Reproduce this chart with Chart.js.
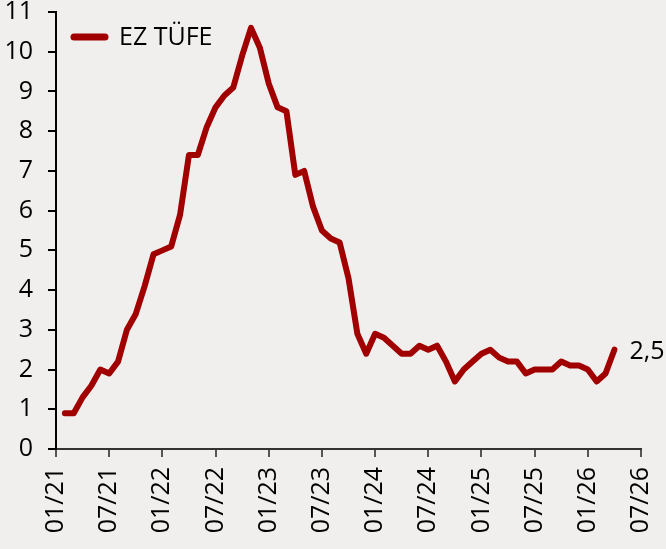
<!DOCTYPE html>
<html lang="tr">
<head>
<meta charset="utf-8">
<script src="https://cdn.jsdelivr.net/npm/chart.js@4.4.1/dist/chart.umd.min.js"></script>
<style>
    html, body { margin: 0; padding: 0; background: #f1efee; }
    #grafico { display: block; }
</style>
</head>
<body>
<canvas id="grafico" width="666" height="549"></canvas>
<script>
// Dados: EZ TÜFE (yıllık %, aylık) 01/21 - 03/26
const aylar = [
    '01/21','02/21','03/21','04/21','05/21','06/21','07/21','08/21','09/21','10/21','11/21','12/21',
    '01/22','02/22','03/22','04/22','05/22','06/22','07/22','08/22','09/22','10/22','11/22','12/22',
    '01/23','02/23','03/23','04/23','05/23','06/23','07/23','08/23','09/23','10/23','11/23','12/23',
    '01/24','02/24','03/24','04/24','05/24','06/24','07/24','08/24','09/24','10/24','11/24','12/24',
    '01/25','02/25','03/25','04/25','05/25','06/25','07/25','08/25','09/25','10/25','11/25','12/25',
    '01/26','02/26','03/26'
];
const ezTufe = [
    0.9, 0.9, 1.3, 1.6, 2.0, 1.9, 2.2, 3.0, 3.4, 4.1, 4.9, 5.0,
    5.1, 5.9, 7.4, 7.4, 8.1, 8.6, 8.9, 9.1, 9.9, 10.6, 10.1, 9.2,
    8.6, 8.5, 6.9, 7.0, 6.1, 5.5, 5.3, 5.2, 4.3, 2.9, 2.4, 2.9,
    2.8, 2.6, 2.4, 2.4, 2.6, 2.5, 2.6, 2.2, 1.7, 2.0, 2.2, 2.4,
    2.5, 2.3, 2.2, 2.2, 1.9, 2.0, 2.0, 2.0, 2.2, 2.1, 2.1, 2.0,
    1.7, 1.9, 2.5
];
const eixoXRotulos = ['01/21','07/21','01/22','07/22','01/23','07/23','01/24','07/24','01/25','07/25','01/26','07/26'];
const nomeSerie = 'EZ TÜFE';

const corLinha = '#a00000';
const fonte = '"Open Sans", "DejaVu Sans", sans-serif';

// cada mês fica uma posição à direita do início do eixo
const pontos = ezTufe.map((v, i) => ({ x: i + 1, y: v }));

// Fundo
const fundoPlugin = {
    id: 'fundo',
    beforeDraw(chart) {
        const ctx = chart.ctx;
        ctx.save();
        ctx.fillStyle = '#f1efee';
        ctx.fillRect(0, 0, chart.width, chart.height);
        ctx.restore();
    }
};

// Legenda dentro da área do gráfico + rótulo do último valor
const legendaPlugin = {
    id: 'legendaInterna',
    afterDatasetsDraw(chart) {
        const ctx = chart.ctx;
        ctx.save();
        ctx.strokeStyle = corLinha;
        ctx.lineWidth = 7;
        ctx.lineCap = 'round';
        ctx.beginPath();
        ctx.moveTo(74, 37);
        ctx.lineTo(105, 37);
        ctx.stroke();
        ctx.fillStyle = '#000';
        ctx.font = '25px ' + fonte;
        ctx.textBaseline = 'middle';
        ctx.textAlign = 'left';
        ctx.fillText(nomeSerie, 119, 38);

        const meta = chart.getDatasetMeta(0);
        const ultimo = meta.data[meta.data.length - 1];
        const valor = ezTufe[ezTufe.length - 1].toFixed(1).replace('.', ',');
        ctx.fillText(valor, ultimo.x + 15, ultimo.y + 2);
        ctx.restore();
    }
};

new Chart(document.getElementById('grafico'), {
    type: 'line',
    data: {
        datasets: [{
            label: nomeSerie,
            data: pontos,
            borderColor: corLinha,
            borderWidth: 6,
            borderJoinStyle: 'round',
            borderCapStyle: 'round',
            pointRadius: 0,
            tension: 0,
            fill: false
        }]
    },
    options: {
        responsive: false,
        animation: false,
        layout: { padding: { top: 12, right: 25, left: 0, bottom: 0 } },
        plugins: {
            legend: { display: false },
            tooltip: { enabled: false }
        },
        scales: {
            x: {
                type: 'linear',
                min: 0,
                max: 66,
                afterBuildTicks(scale) {
                    scale.ticks = eixoXRotulos.map((r, i) => ({ value: i * 6 }));
                },
                afterFit(scale) {
                    scale.height = 100;
                    scale.paddingLeft = 0;
                    scale.paddingRight = 0;
                },
                ticks: {
                    autoSkip: false,
                    minRotation: 90,
                    maxRotation: 90,
                    padding: 10,
                    color: '#000',
                    font: { family: fonte, size: 25 },
                    callback: (v) => eixoXRotulos[Math.round(v / 6)]
                },
                grid: {
                    drawOnChartArea: false,
                    drawTicks: true,
                    tickLength: 8,
                    color: '#555',
                    lineWidth: 2
                },
                border: { display: true, color: '#333', width: 2 }
            },
            y: {
                min: 0,
                max: 11,
                afterFit(scale) {
                    scale.width = 56;
                    scale.paddingTop = 0;
                    scale.paddingBottom = 0;
                },
                ticks: {
                    stepSize: 1,
                    padding: 15,
                    color: '#000',
                    font: { family: fonte, size: 25 }
                },
                grid: {
                    drawOnChartArea: false,
                    drawTicks: true,
                    tickLength: 8,
                    color: '#000',
                    lineWidth: 2
                },
                border: { display: true, color: '#000', width: 2 }
            }
        }
    },
    plugins: [fundoPlugin, legendaPlugin]
});
</script>
</body>
</html>
